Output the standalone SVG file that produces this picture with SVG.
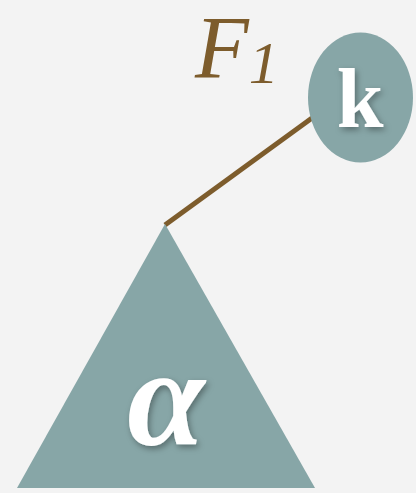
<svg xmlns="http://www.w3.org/2000/svg" width="416" height="493" viewBox="0 0 416 493">
<defs>
<style>
.node{fill:#87a6a7;}
.lbl{fill:#ffffff;filter:url(#sh);}
.edge{stroke:#7d5c2c;stroke-width:5;fill:none;}
</style>
<filter id="sh" x="-30%" y="-30%" width="160%" height="160%">
<feDropShadow dx="2" dy="3" stdDeviation="3" flood-color="#000" flood-opacity="0.35"/>
</filter>
</defs>
<rect width="416" height="493" fill="#f3f3f3"/>
<g id="connectors">
<line class="edge" x1="165" y1="225" x2="312" y2="118"/>
</g>
<g id="node-alpha">
<polygon class="node" points="165,224 315,488 17,488"/>
<text class="lbl" x="166" y="445" font-family="Liberation Serif, serif" font-weight="bold" font-style="italic" font-size="140" text-anchor="middle">α</text>
</g>
<g id="node-k">
<ellipse class="node" cx="360.5" cy="97.5" rx="52.5" ry="65"/>
<text class="lbl" x="360" y="127" font-family="Liberation Serif, serif" font-weight="bold" font-size="84" text-anchor="middle">k</text>
</g>
<g id="label-F1">
<text x="195" y="77" font-family="Liberation Serif, serif" font-style="italic" font-size="88" fill="#7d5c2c">F<tspan font-size="60" dy="6">1</tspan></text>
</g>
</svg>
